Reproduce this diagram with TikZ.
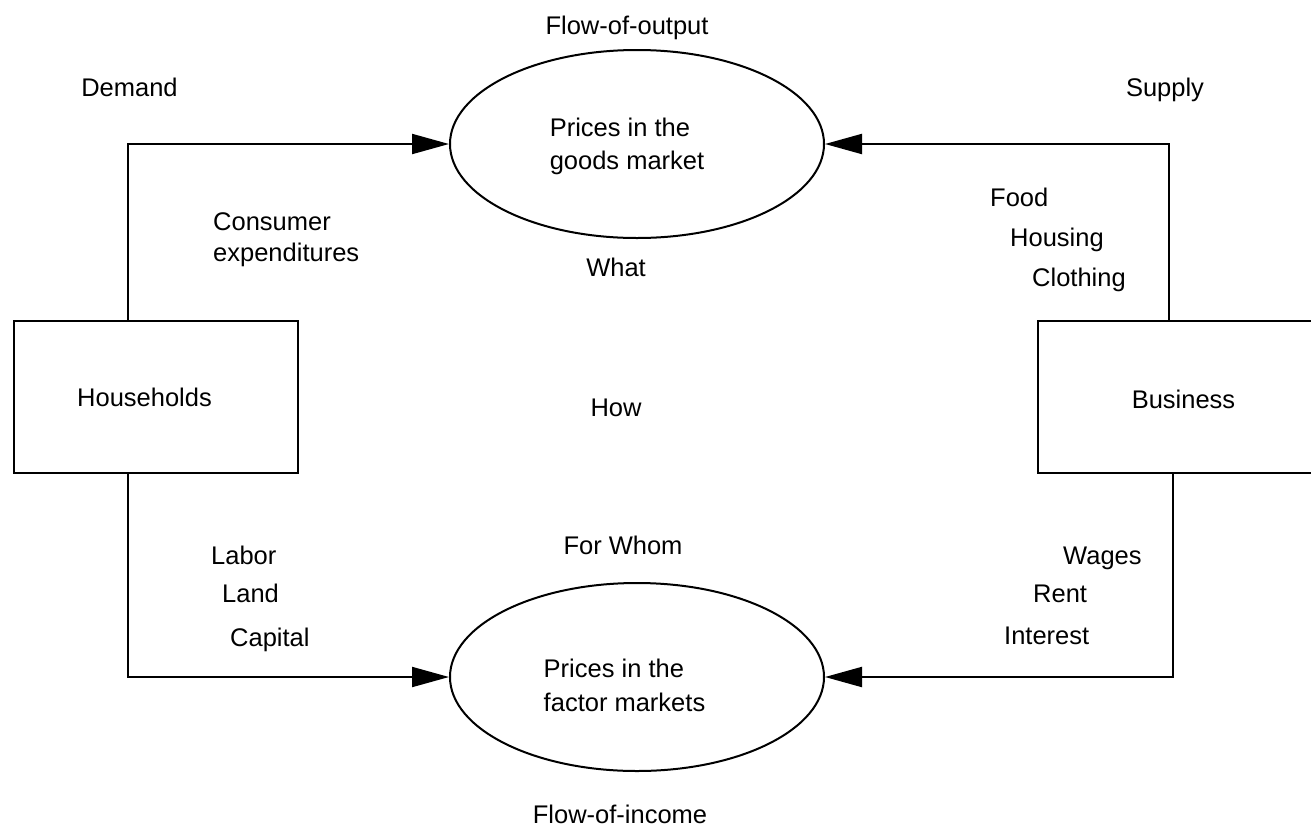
\documentclass[tikz,border=0pt]{standalone}
\usepackage{fontspec}
\setmainfont{Liberation Sans}
\usetikzlibrary{arrows.meta,shapes.geometric}
\begin{document}
\begin{tikzpicture}[x=1pt,y=-1pt,
  lbl/.style={font=\fontsize{25.5}{31}\selectfont, inner sep=0pt},
  box/.style={draw, line width=2pt, rectangle, inner sep=0pt, outer sep=0pt},
  mkt/.style={draw, line width=2pt, ellipse, inner sep=0pt, minimum width=374pt, minimum height=188pt},
  flow/.style={line width=2pt, -{Triangle[length=37pt,width=20pt]}}]
\useasboundingbox (0,0) rectangle (1311,828);
\clip (0,0) rectangle (1311,828);

% main nodes
\node[box, minimum width=284pt, minimum height=152pt,
      label={[lbl, xshift=-11.5pt]center:Households}] (hh) at (156,397) {};
\node[box, minimum width=282pt, minimum height=152pt,
      label={[lbl, xshift=4.5pt, yshift=-2pt]center:Business}] (bus) at (1179,397) {};
\node[mkt, label={[lbl, align=left, xshift=-10pt, yshift=-2pt, font=\fontsize{25.5}{33}\selectfont]center:{Prices in the\\goods market}}] (goods) at (637,144) {};
\node[mkt, label={[lbl, align=left, xshift=-12.5pt, yshift=-8pt, font=\fontsize{25.5}{34}\selectfont]center:{Prices in the\\factor markets}}] (factor) at (637,677) {};

% connectors
\draw[flow] ([xshift=114pt]hh.north west) |- (goods.west);
\draw[flow] ([xshift=131pt]bus.north west) |- (goods.east);
\draw[flow] ([xshift=114pt]hh.south west) |- (factor.west);
\draw[flow] ([xshift=135pt]bus.south west) |- (factor.east);

% labels
\node[lbl, anchor=base] (fout) at (627,34) {Flow-of-output};
\node[lbl, anchor=base] (dem) at (129.5,96) {Demand};
\node[lbl, anchor=base] (sup) at (1165,96) {Supply};
\node[lbl, anchor=west, align=left] (cons) at (213,240) {Consumer\\expenditures};
\node[lbl, anchor=base west] (food) at (990,206) {Food};
\node[lbl, anchor=base west] (housing) at (1010,246) {Housing};
\node[lbl, anchor=base west] (clothing) at (1032,286) {Clothing};
\node[lbl, anchor=base] (what) at (616,276) {What};
\node[lbl, anchor=base] (how) at (616,416) {How};
\node[lbl, anchor=base] (forwhom) at (623,554) {For Whom};
\node[lbl, anchor=base west] (labor) at (211,564) {Labor};
\node[lbl, anchor=base west] (land) at (222,602) {Land};
\node[lbl, anchor=base west] (capital) at (230,646) {Capital};
\node[lbl, anchor=base west] (wages) at (1063,564) {Wages};
\node[lbl, anchor=base west] (rent) at (1033,602) {Rent};
\node[lbl, anchor=base west] (interest) at (1004,644) {Interest};
\node[lbl, anchor=base] (finc) at (620,823.5) {Flow-of-income};
\end{tikzpicture}
\end{document}
